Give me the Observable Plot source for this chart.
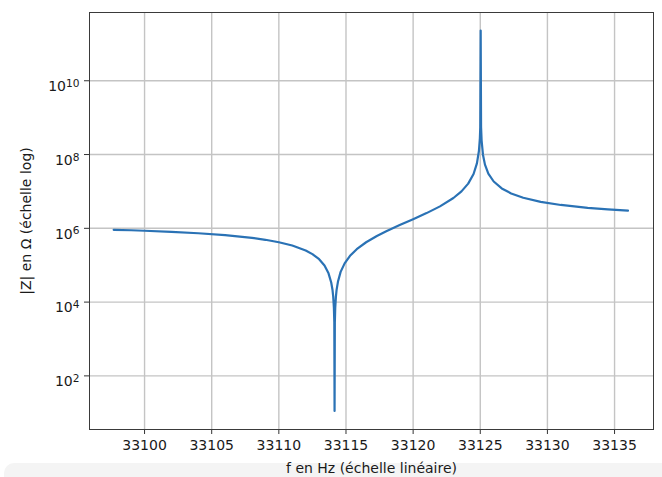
<!DOCTYPE html>
<html>
<head>
<meta charset="utf-8">
<script src="https://cdn.jsdelivr.net/npm/d3@7"></script>
<script src="https://cdn.jsdelivr.net/npm/@observablehq/plot@0.6"></script>
<style>
  html, body { margin: 0; padding: 0; background: #ffffff; }
  #wrap { position: relative; width: 662px; height: 477px; overflow: hidden; }
  #band { position: absolute; left: 4px; top: 463px; width: 670px; height: 30px; background: #f4f4f4; border-top-left-radius: 10px; }
  #chart { position: absolute; left: 0; top: 0; }
</style>
</head>
<body>
<div id="wrap"><div id="band"></div><div id="chart"></div></div>
<script>
// Frequency (Hz)
const freqHz = [
  33097.7, 33099, 33100, 33102, 33104, 33106, 33108, 33109, 33110, 33111,
  33112, 33112.5, 33113, 33113.4, 33113.7, 33113.9, 33114.0, 33114.05, 33114.1, 33114.13,
  33114.15, 33114.17, 33114.2, 33114.25, 33114.3, 33114.4, 33114.6, 33114.9, 33115.3, 33115.8,
  33116.5, 33117.3, 33118, 33119, 33120, 33121, 33122, 33123, 33123.6, 33124.1,
  33124.5, 33124.75, 33124.9, 33124.97, 33125.0, 33125.03, 33125.06, 33125.1, 33125.2, 33125.35,
  33125.6, 33126, 33126.6, 33127.3, 33128.2, 33129.5, 33131, 33133, 33134.5, 33136
];
// log10 of |Z| in ohms
const log10Z = [
  5.96, 5.947, 5.934, 5.904, 5.866, 5.814, 5.74, 5.689, 5.623, 5.533,
  5.40, 5.30, 5.162, 4.99, 4.78, 4.53, 4.32, 4.14, 3.84, 3.45,
  1.05, 3.45, 3.85, 4.15, 4.33, 4.55, 4.82, 5.05, 5.255, 5.434,
  5.622, 5.792, 5.92, 6.087, 6.248, 6.412, 6.595, 6.821, 7.002, 7.211,
  7.473, 7.76, 8.10, 8.44, 8.74, 11.36, 8.74, 8.38, 7.995, 7.726,
  7.485, 7.269, 7.081, 6.945, 6.829, 6.718, 6.633, 6.556, 6.514, 6.481
];
const xTicks = [33100, 33105, 33110, 33115, 33120, 33125, 33130, 33135];
const yTicks = [1e2, 1e4, 1e6, 1e8, 1e10];
const yTickBase = "10";
const yTickExp = ["2", "4", "6", "8", "10"];
const xLabel = "f en Hz (échelle linéaire)";
const yLabel = "|Z| en Ω (échelle log)";

const data = freqHz.map((f, i) => ({f, z: Math.pow(10, log10Z[i])}));

const chart = Plot.plot({
  width: 662,
  height: 477,
  marginLeft: 89,
  marginRight: 9,
  marginTop: 12,
  marginBottom: 48,
  style: {background: "transparent", fontFamily: "DejaVu Sans, sans-serif", fontSize: "14px", color: "#1a1a1a"},
  x: {domain: [33095.9, 33137.9]},
  y: {type: "log", domain: [3.52, 7.08e11]},
  marks: [
    Plot.gridX(xTicks, {stroke: "#c4c4c4", strokeOpacity: 1, strokeWidth: 1.4}),
    Plot.gridY(yTicks, {stroke: "#c4c4c4", strokeOpacity: 1, strokeWidth: 1.4}),
    Plot.axisX(xTicks, {
      tickSize: 5, tickPadding: 6, stroke: "#333", fill: "#1a1a1a",
      tickFormat: d => String(d), fontSize: 14,
      label: xLabel, labelAnchor: "center", labelOffset: 43, labelArrow: "none"
    }),
    Plot.axisY(yTicks, {
      tickSize: 5, tickPadding: 5, stroke: "#333", fill: "#1a1a1a",
      tickFormat: d => yTickBase + yTickExp[yTicks.indexOf(d)], fontSize: 14,
      label: yLabel, labelAnchor: "center", labelOffset: 68, labelArrow: "none"
    }),
    Plot.frame({stroke: "#3a3a3a", strokeWidth: 1}),
    Plot.line(data, {x: "f", y: "z", stroke: "#2a72b5", strokeWidth: 2.2, curve: "linear"})
  ]
});

// render y tick labels as base with superscript exponent
const yTickTexts = chart.querySelectorAll('g[aria-label="y-axis tick label"] text');
yTickTexts.forEach(t => {
  const s = t.textContent;
  const exp = s.slice(yTickBase.length);
  t.textContent = "";
  const b = document.createElementNS("http://www.w3.org/2000/svg", "tspan");
  b.textContent = yTickBase;
  const e = document.createElementNS("http://www.w3.org/2000/svg", "tspan");
  e.textContent = exp;
  e.setAttribute("dy", "-0.4em");
  e.setAttribute("font-size", "0.76em");
  t.appendChild(b);
  t.appendChild(e);
  t.setAttribute("dy", "0.42em");
});
document.getElementById("chart").appendChild(chart);
</script>
</body>
</html>
